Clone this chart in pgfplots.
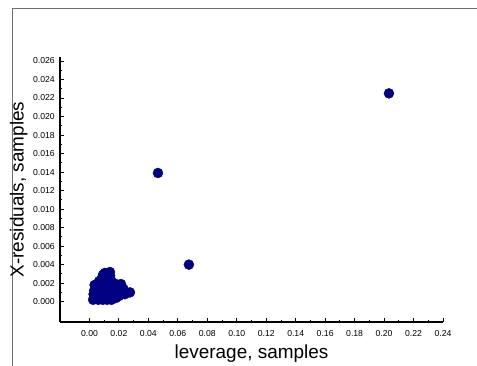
\documentclass[border=0pt]{standalone}
\usepackage{pgfplots}
\pgfplotsset{compat=1.18}
\usepackage{fontspec}
\setmainfont{Liberation Sans}
\definecolor{dotblue}{RGB}{0,0,128}
\definecolor{framegray}{RGB}{110,110,110}
\begin{document}
\begin{tikzpicture}
\useasboundingbox (0,0) rectangle (477bp,366bp);
\draw[framegray, line width=1.2bp] (12.5bp,0) -- (12.5bp,357.5bp) -- (477bp,357.5bp);
\begin{axis}[
  at={(60bp,44bp)}, anchor=south west,
  scale only axis,
  width=383bp, height=265bp,
  xmin=-0.02, xmax=0.24,
  ymin=-0.0022, ymax=0.02643,
  axis lines=left,
  axis line style={line width=1.2bp, -},
  every tick/.style={black, line width=0.9bp},
  tick align=inside,
  major tick length=4bp, minor tick length=2bp,
  xtick={0,0.02,0.04,0.06,0.08,0.10,0.12,0.14,0.16,0.18,0.20,0.22,0.24},
  ytick={0,0.002,0.004,0.006,0.008,0.010,0.012,0.014,0.016,0.018,0.020,0.022,0.024,0.026},
  minor x tick num=1, minor y tick num=1,
  /pgf/number format/assume math mode=true,
  xticklabel={\pgfmathprintnumber[fixed,fixed zerofill,precision=2]{\tick}},
  yticklabel={\pgfmathprintnumber[fixed,fixed zerofill,precision=3]{\tick}},
  scaled x ticks=false, scaled y ticks=false,
  xticklabel style={font=\fontsize{8.7}{10}\selectfont, inner sep=0pt, anchor=north, yshift=-8bp},
  yticklabel style={font=\fontsize{8.7}{10}\selectfont, inner sep=0pt, anchor=east, xshift=-5bp},
  xlabel={leverage, samples},
  ylabel={X-residuals, samples},
  xlabel style={font=\fontsize{19}{22}\selectfont, inner sep=0pt, at={(axis description cs:0.5,-0.087)}, anchor=north},
  ylabel style={font=\fontsize{19}{22}\selectfont, inner sep=0pt, at={(axis description cs:-0.084,0.5)}, anchor=south},
  clip=false,
]
\addplot[only marks, mark=*, mark size=5bp, color=dotblue, mark options={draw=dotblue, fill=dotblue}] coordinates {
(0.2033,0.0225) (0.0465,0.0139) (0.0675,0.0040)
(0.0025,0.0002) (0.0030,0.0004) (0.0028,0.0008) (0.0032,0.0012) (0.0040,0.0015)
(0.0058,0.0018) (0.0065,0.0022) (0.0080,0.0024) (0.0092,0.0029) (0.0105,0.0031)
(0.0139,0.0032) (0.0140,0.0028) (0.0120,0.0026) (0.0150,0.0022) (0.0180,0.0019)
(0.0214,0.0019) (0.0230,0.0014) (0.0275,0.0010) (0.0240,0.0008) (0.0200,0.0006)
(0.0180,0.0004) (0.0150,0.0002) (0.0120,0.0002) (0.0090,0.0002) (0.0060,0.0002)
(0.0045,0.0004) (0.0060,0.0007) (0.0080,0.0010) (0.0100,0.0012) (0.0110,0.0008)
(0.0140,0.0010) (0.0160,0.0014) (0.0130,0.0017) (0.0100,0.0019) (0.0070,0.0015)
(0.0050,0.0011) (0.0170,0.0009) (0.0200,0.0012) (0.0035,0.0018) (0.0085,0.0005)
};
\end{axis}
\end{tikzpicture}
\end{document}
